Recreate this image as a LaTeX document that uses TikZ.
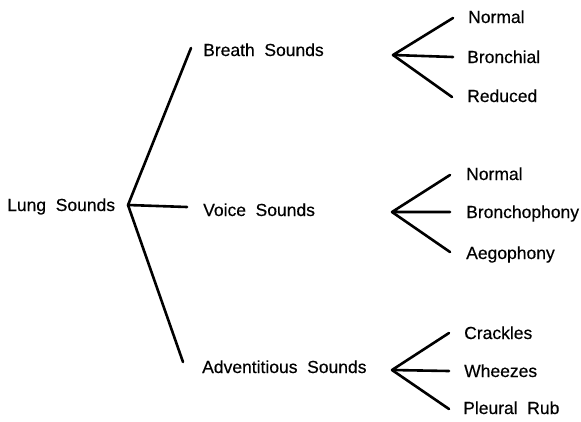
\documentclass[tikz,border=0pt]{standalone}
\usepackage{fontspec}
\setmainfont{Liberation Sans}
\newfontfamily\lblfont[FakeBold=0.4]{Liberation Sans}
\newcommand{\ws}{\hspace{0.55em}}
\begin{document}
\begin{tikzpicture}[x=1pt,y=-1pt,
  lbl/.style={anchor=base west,inner sep=0pt,font=\lblfont\fontsize{17.5}{20}\selectfont},
  br/.style={line width=2.6pt,line cap=round,line join=round}]
\useasboundingbox (0,0) rectangle (581,421);
% root (positions are baselines)
\node[lbl] (lung) at (7,211) {Lung\ws Sounds};
\coordinate (r) at (128,205);
% level 1
\node[lbl] (breath) at (203,56) {Breath\ws Sounds};
\node[lbl] (voice) at (203,216) {Voice\ws Sounds};
\node[lbl] (adv) at (202,373) {Adventitious\ws Sounds};
\coordinate (e1) at (191,48);
\coordinate (e2) at (187,207);
\coordinate (e3) at (183,362);
\draw[br] (e1) -- (r) -- (e2);
\draw[br] (r) -- (e3);
% breath leaves
\coordinate (fb) at (393,55);
\node[lbl] (b1) at (468,23) {Normal};
\node[lbl] (b2) at (467,63) {Bronchial};
\node[lbl] (b3) at (467,102) {Reduced};
\coordinate (b1e) at (453,18);
\coordinate (b2e) at (453,57);
\coordinate (b3e) at (452,97);
\draw[br] (b1e) -- (fb) -- (b2e);
\draw[br] (fb) -- (b3e);
% voice leaves
\coordinate (fv) at (392,212);
\node[lbl] (v1) at (466,180) {Normal};
\node[lbl] (v2) at (466,218) {Bronchophony};
\node[lbl] (v3) at (466,259) {Aegophony};
\coordinate (v1e) at (450,175);
\coordinate (v2e) at (450,212);
\coordinate (v3e) at (450,252);
\draw[br] (v1e) -- (fv) -- (v2e);
\draw[br] (fv) -- (v3e);
% adventitious leaves
\coordinate (fa) at (392,370);
\node[lbl] (a1) at (464,339) {Crackles};
\node[lbl] (a2) at (464,377) {Wheezes};
\node[lbl] (a3) at (463,414) {Pleural\ws Rub};
\coordinate (a1e) at (449,333);
\coordinate (a2e) at (449,371);
\coordinate (a3e) at (449,409);
\draw[br] (a1e) -- (fa) -- (a2e);
\draw[br] (fa) -- (a3e);
\end{tikzpicture}
\end{document}
